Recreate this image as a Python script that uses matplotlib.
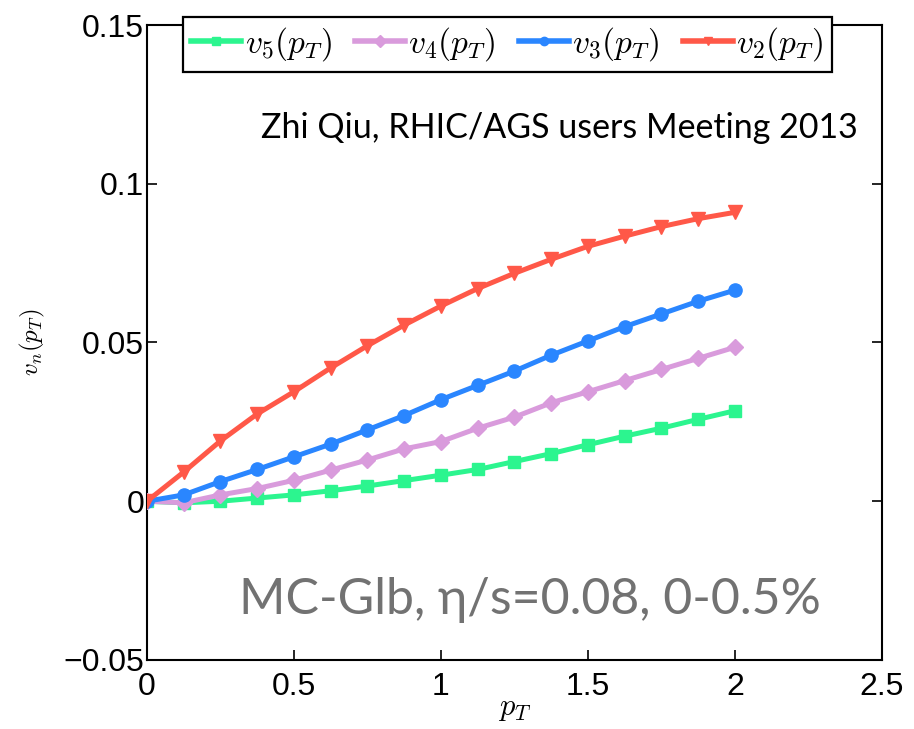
import matplotlib
matplotlib.use("Agg")
import matplotlib.pyplot as plt
import numpy as np

plt.rcParams['mathtext.fontset'] = 'cm'
plt.rcParams['font.family'] = ['Liberation Sans', 'DejaVu Sans']

pt = [0.0, 0.125, 0.25, 0.375, 0.5, 0.625, 0.75, 0.875, 1.0,
      1.125, 1.25, 1.375, 1.5, 1.625, 1.75, 1.875, 2.0]

v2 = [0.0, 0.0092, 0.019, 0.0275, 0.0345, 0.042, 0.049, 0.0555, 0.0615,
      0.067, 0.0718, 0.0762, 0.0803, 0.0835, 0.0865, 0.089, 0.091]
v3 = [0.0, 0.002, 0.0062, 0.010, 0.014, 0.018, 0.0225, 0.027, 0.032,
      0.0365, 0.041, 0.046, 0.0505, 0.055, 0.059, 0.063, 0.0665]
v4 = [0.0, -0.0005, 0.002, 0.004, 0.0066, 0.0098, 0.013, 0.0165, 0.0188,
      0.023, 0.0265, 0.031, 0.0345, 0.038, 0.0415, 0.045, 0.0485]
v5 = [0.0, -0.0005, 0.0, 0.001, 0.002, 0.0033, 0.0048, 0.0065, 0.0082,
      0.010, 0.0125, 0.015, 0.0178, 0.0205, 0.023, 0.0258, 0.0285]

series = [
    (v5, '#2cf58f', 's', 8.5, r'$v_5(p_T)$'),
    (v4, '#d99bdc', 'D', 8.0, r'$v_4(p_T)$'),
    (v3, '#2a86ff', 'o', 9.5, r'$v_3(p_T)$'),
    (v2, '#ff5848', 'v', 10.5, r'$v_2(p_T)$'),
]

fig = plt.figure(figsize=(9.14, 7.29), dpi=100)
ax = fig.add_axes([0.1608, 0.0947, 0.8042, 0.871])

handles = []
for vals, col, mk, ms, lab in series:
    h, = ax.plot(pt, vals, color=col, marker=mk, markersize=ms, linewidth=3.6,
                 markeredgecolor=col, label=lab, zorder=3)
    handles.append(h)

ax.set_xlim(0, 2.5)
ax.set_ylim(-0.05, 0.15)
ax.set_xticks([0, 0.5, 1, 1.5, 2, 2.5])
ax.set_xticklabels(['0', '0.5', '1', '1.5', '2', '2.5'])
ax.set_yticks([-0.05, 0, 0.05, 0.1, 0.15])
ax.set_yticklabels(['\u22120.05', '0', '0.05', '0.1', '0.15'])
ax.tick_params(direction='in', length=7, width=1.2, labelsize=23,
               top=True, right=True)
ax.tick_params(axis='y', pad=2)
ax.tick_params(axis='x', pad=9)
for s in ax.spines.values():
    s.set_linewidth(1.5)

ax.set_xlabel(r'$p_T$', fontsize=22, labelpad=-7)
ax.set_ylabel(r'$v_n(p_T)$', fontsize=18, labelpad=12)

leg = ax.legend(handles=handles, loc='upper center', ncol=4,
                bbox_to_anchor=(0.49, 1.013), fontsize=24, frameon=True,
                fancybox=False, edgecolor='black', framealpha=1,
                handlelength=1.5, handletextpad=0.1, columnspacing=0.7,
                borderpad=0.26, borderaxespad=0)
leg.get_frame().set_linewidth(1.6)
for lh in leg.legend_handles:
    lh.set_markersize(6)
    lh.set_linewidth(4)

ax.text(0.967, 0.838, 'Zhi Qiu, RHIC/AGS users Meeting 2013',
        transform=ax.transAxes, ha='right', va='center', fontsize=24.5,
        family=['Lato', 'DejaVu Sans'], color='black')
ax.text(0.521, 0.094, 'MC-Glb, \u03b7/s=0.08, 0-0.5%',
        transform=ax.transAxes, ha='center', va='center', fontsize=36,
        family=['Lato', 'DejaVu Sans'], color='#727272')

fig.savefig('out.png', dpi=100)
